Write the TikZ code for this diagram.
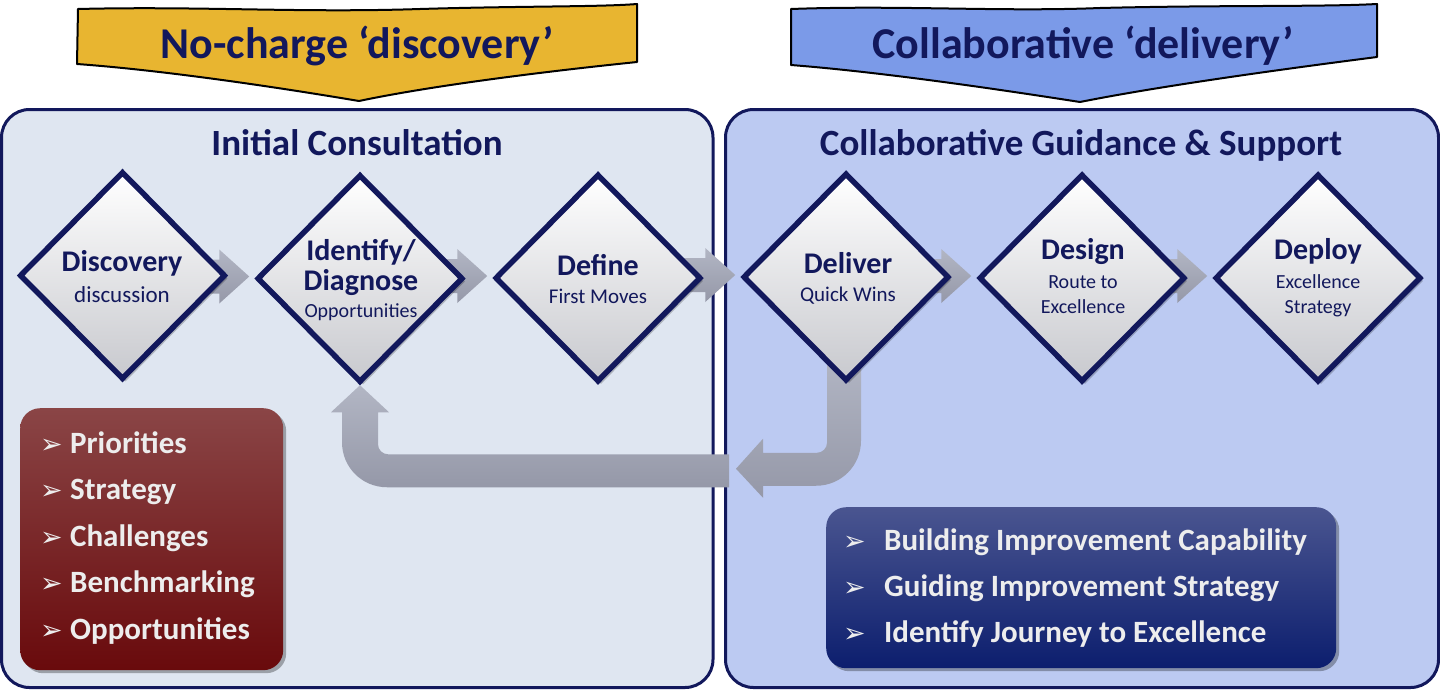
\documentclass[tikz,border=0pt]{standalone}
\usepackage{fontspec}
\setmainfont{Carlito}
\newfontfamily\dejavu{DejaVu Sans}
\usetikzlibrary{shapes.geometric,shadows}
\pgfdeclarelayer{back}
\pgfdeclarelayer{mid}
\pgfsetlayers{back,mid,main}
\definecolor{navy}{HTML}{12185C}
\definecolor{panelL}{HTML}{DFE6F1}
\definecolor{panelR}{HTML}{BCCAF2}
\definecolor{bannerY}{HTML}{E8B530}
\definecolor{bannerB}{HTML}{7B9AE8}
\definecolor{arrowT}{HTML}{B2B6C4}
\definecolor{arrowB}{HTML}{9598A8}
\definecolor{redT}{HTML}{8A4546}
\definecolor{redB}{HTML}{690A0C}
\definecolor{bluT}{HTML}{4A5590}
\definecolor{bluB}{HTML}{0C1E6E}
\definecolor{boxtext}{HTML}{EDEDED}
\definecolor{diabot}{HTML}{C8C9CE}
\newcommand{\fs}[1]{\fontsize{#1}{#1}\selectfont}
\newcommand{\bul}[1]{\makebox[#1][l]{\dejavu\fs{27}\textcolor{boxtext}{➢}}}
\tikzset{
  panel/.style={draw=navy, line width=3pt, rounded corners=28pt},
  dia/.style={diamond, minimum width=206pt, minimum height=208pt, inner sep=0pt,
    draw=navy, line width=5.5pt, top color=white, bottom color=diabot,
    drop shadow={shadow xshift=3pt, shadow yshift=-3pt, opacity=0.22, fill=black}},
  bigt/.style={font=\bfseries\fs{30}, text=navy, anchor=base, inner sep=0pt},
  subt/.style={text=navy, anchor=base, inner sep=0pt},
  titlet/.style={font=\bfseries\fs{37}, text=navy, anchor=base, inner sep=0pt},
  bannert/.style={font=\bfseries\fs{44}, text=navy, anchor=base, inner sep=0pt},
  banner/.style={draw=black, line width=2pt, line join=round},
  garrow/.style={top color=arrowT, bottom color=arrowB, draw=none},
  listbox/.style={rounded corners=20pt, draw=none,
    drop shadow={shadow xshift=3pt, shadow yshift=-3pt, opacity=0.3, fill=black}},
  listt/.style={font=\bfseries\fs{31}, text=boxtext, anchor=base west, inner sep=0pt},
}
\begin{document}
\begin{tikzpicture}[x=1pt,y=-1pt]
\useasboundingbox (0,0) rectangle (1440,689);

% panels
\begin{pgfonlayer}{back}
\draw[panel, fill=panelL] (1.5,109.5) rectangle (713,687.5);
\draw[panel, fill=panelR] (725.5,109.5) rectangle (1438.5,687.5);
\end{pgfonlayer}

% banners
\draw[banner, fill=bannerY] (78,9) .. controls (200,6) and (300,13) .. (420,9)
  .. controls (520,6) and (600,7) .. (637,4) -- (637,62)
  .. controls (540,72) and (430,86) .. (359,101)
  .. controls (270,86) and (160,70) .. (77,64) -- cycle;
\node[bannert] (bt1) at (357,58) {No-charge ‘discovery’};
\draw[banner, fill=bannerB] (791,9) .. controls (900,5) and (1000,12) .. (1100,8)
  .. controls (1220,5) and (1320,7) .. (1377,4) -- (1377,57)
  .. controls (1260,72) and (1150,88) .. (1080,102)
  .. controls (990,88) and (880,72) .. (791,65) -- cycle;
\node[bannert] (bt2) at (1083,58) {Collaborative ‘delivery’};

% titles
\node[titlet] (ti1) at (357,155) {Initial Consultation};
\node[titlet] (ti2) at (1081,155) {Collaborative Guidance \& Support};

% diamonds
\node[dia] (d1) at (122.5,275.5) {};
\node[dia] (d2) at (360,278.5) {};
\node[dia] (d3) at (598,278) {};
\node[dia] (d4) at (846,277) {};
\node[dia] (d5) at (1082,278) {};
\node[dia] (d6) at (1318,278) {};

% diamond texts
\node[bigt] (t1a) at (122,271) {Discovery};
\node[subt, font=\fs{23}] (t1b) at (122,302) {discussion};
\node[bigt] (t2a) at (361,260) {Identify/};
\node[bigt] (t2b) at (361,290) {Diagnose};
\node[subt, font=\fs{20}] (t2c) at (361,317) {Opportunities};
\node[bigt] (t3a) at (598,275) {Define};
\node[subt, font=\fs{21}] (t3b) at (598,303) {First Moves};
\node[bigt] (t4a) at (848,273) {Deliver};
\node[subt, font=\fs{21}] (t4b) at (848,301) {Quick Wins};
\node[bigt] (t5a) at (1083,259) {Design};
\node[subt, font=\fs{20}] (t5b) at (1083,288) {Route to};
\node[subt, font=\fs{20}] (t5c) at (1083,313) {Excellence};
\node[bigt] (t6a) at (1318,259) {Deploy};
\node[subt, font=\fs{20}] (t6b) at (1318,288) {Excellence};
\node[subt, font=\fs{20}] (t6c) at (1318,313) {Strategy};

% forward arrows
\begin{pgfonlayer}{mid}
\foreach \a/\b in {d1/d2,d2/d3,d3/d4,d4/d5,d5/d6}{
  \begin{scope}[shift={(\b.west)}]
    \path[garrow] (-80,-19) -- (-35,-19) -- (-35,-29) -- (-5,-2) -- (-35,25) -- (-35,15) -- (-80,15) -- cycle;
  \end{scope}
}
% return arrow: from Deliver back to Identify/Diagnose
\begin{scope}[shift={(d4.south)}]
  \path[garrow] (15,-30) -- (15,57) .. controls (15,82) and (-5,102) .. (-30,102)
    -- (-83,102) -- (-83,114) -- (-110,85) -- (-83,55) -- (-83,69) -- (-29,69)
    .. controls (-23.5,69) and (-19,64.5) .. (-19,59) -- (-19,-30) -- cycle;
\end{scope}
\begin{scope}[shift={(d2.south)}]
  \path[garrow] (369,69) -- (369,102) -- (27,102) .. controls (2,102) and (-18,82) .. (-18,57)
    -- (-18,27) -- (-29,27) -- (0,0) -- (29,27) -- (18,27) -- (18,59)
    .. controls (18,64.5) and (22.5,69) .. (28,69) -- cycle;
\end{scope}
\end{pgfonlayer}

% red list box
\node[listbox, top color=redT, bottom color=redB, minimum width=263pt, minimum height=262pt, anchor=north west, inner sep=0pt] (rb) at (20,408) {};
\node[listt] (r1) at (40,453) {\bul{30pt}Priorities};
\node[listt] (r2) at (40,499.5) {\bul{30pt}Strategy};
\node[listt] (r3) at (40,546) {\bul{30pt}Challenges};
\node[listt] (r4) at (40,592.5) {\bul{30pt}Benchmarking};
\node[listt] (r5) at (40,639) {\bul{30pt}Opportunities};

% blue list box
\node[listbox, top color=bluT, bottom color=bluB, minimum width=510pt, minimum height=161pt, anchor=north west, inner sep=0pt] (bb) at (826,507) {};
\node[listt] (b1) at (843,550) {\bul{41pt}Building Improvement Capability};
\node[listt] (b2) at (843,596) {\bul{41pt}Guiding Improvement Strategy};
\node[listt] (b3) at (843,642) {\bul{41pt}Identify Journey to Excellence};
\end{tikzpicture}
\end{document}
